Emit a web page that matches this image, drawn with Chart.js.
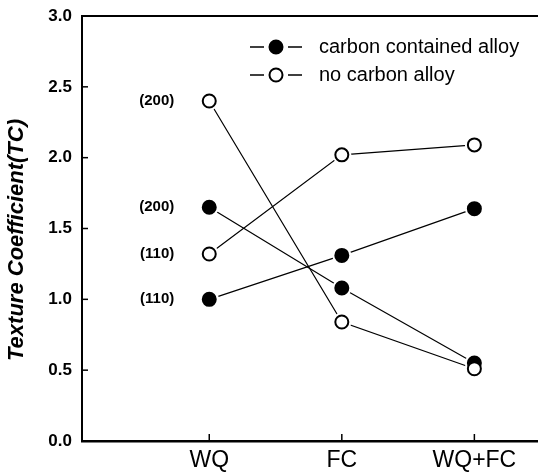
<!DOCTYPE html>
<html>
<head>
<meta charset="utf-8">
<script src="https://cdn.jsdelivr.net/npm/chart.js@4"></script>
<style>
  html, body { margin: 0; padding: 0; background: #fff; }
  #wrap { width: 538px; height: 474px; }
</style>
</head>
<body>
<div id="wrap"><canvas id="grafico" width="538" height="474"></canvas></div>
<script>
// categorias e valores
const categories = ['WQ', 'FC', 'WQ+FC'];
const carbon200 = [1.65, 1.08, 0.55];
const carbon110 = [1.00, 1.31, 1.64];
const noCarbon200 = [2.40, 0.84, 0.51];
const noCarbon110 = [1.32, 2.02, 2.09];
const yTicks = [0, 0.5, 1.0, 1.5, 2.0, 2.5, 3.0];
const legendLabels = ['carbon contained alloy', 'no carbon alloy'];
const yTitle = 'Texture Coefficient(TC)';
// rótulos dos planos ao lado do primeiro ponto
const planeLabels = [
  { text: '(200)', series: noCarbon200 },
  { text: '(200)', series: carbon200 },
  { text: '(110)', series: noCarbon110 },
  { text: '(110)', series: carbon110 }
];

const FONT = "'Liberation Sans', Arial, sans-serif";

function pontos(vals) {
  return vals.map((v, i) => ({ x: i + 1, y: v }));
}

const series = [
  { vals: carbon200, filled: true },
  { vals: carbon110, filled: true },
  { vals: noCarbon200, filled: false },
  { vals: noCarbon110, filled: false }
];

const datasets = [];
// linhas
series.forEach(s => datasets.push({
  data: pontos(s.vals), showLine: true, borderColor: '#000', borderWidth: 1.2,
  pointRadius: 0, order: 4
}));
// halo branco para abrir um pequeno espaço entre linha e marcador
series.forEach(s => datasets.push({
  data: pontos(s.vals), showLine: false, pointRadius: 9.5,
  pointBackgroundColor: '#fff', pointBorderWidth: 0, pointBorderColor: '#fff', order: 3
}));
// marcadores
series.forEach(s => datasets.push({
  data: pontos(s.vals), showLine: false, pointRadius: 6.5,
  pointBackgroundColor: s.filled ? '#000' : '#fff', pointBorderColor: '#000',
  pointBorderWidth: 2, order: s.filled ? 2 : 1
}));

// moldura, ticks internos, legenda e rótulos
const extras = {
  id: 'extras',
  afterDraw(chart) {
    const c = chart.ctx;
    const a = chart.chartArea;
    const xs = chart.scales.x, ys = chart.scales.y;
    c.save();
    c.strokeStyle = '#000';
    c.fillStyle = '#000';
    // linha de cima
    c.lineWidth = 2;
    c.beginPath(); c.moveTo(a.left, a.top); c.lineTo(a.right, a.top); c.stroke();
    // ticks internos
    c.lineWidth = 1.5;
    yTicks.forEach(t => {
      const y = ys.getPixelForValue(t);
      c.beginPath(); c.moveTo(a.left, y); c.lineTo(a.left + 6, y); c.stroke();
    });
    categories.forEach((_, i) => {
      const x = xs.getPixelForValue(i + 1);
      c.beginPath(); c.moveTo(x, a.bottom); c.lineTo(x, a.bottom - 7); c.stroke();
    });
    // título do eixo y
    c.save();
    c.translate(17, 240);
    c.rotate(-Math.PI / 2);
    c.font = 'italic bold 22px ' + FONT;
    c.textAlign = 'center';
    c.textBaseline = 'middle';
    c.fillText(yTitle, 0, 0);
    c.restore();
    // legenda
    c.lineWidth = 1.3;
    c.font = '20px ' + FONT;
    c.textBaseline = 'middle';
    legendLabels.forEach((txt, i) => {
      const y = 47 + i * 28;
      c.beginPath(); c.moveTo(250, y); c.lineTo(264, y); c.moveTo(288, y); c.lineTo(302, y); c.stroke();
      c.beginPath(); c.arc(276, y, 6.5, 0, Math.PI * 2);
      c.fillStyle = i === 0 ? '#000' : '#fff';
      c.fill();
      c.lineWidth = 2; c.stroke(); c.lineWidth = 1.3;
      c.fillStyle = '#000';
      c.textAlign = 'left';
      c.fillText(txt, 319, y);
    });
    // rótulos (200)/(110)
    c.font = 'bold 15px ' + FONT;
    c.textAlign = 'right';
    planeLabels.forEach(p => {
      c.fillText(p.text, xs.getPixelForValue(1) - 35, ys.getPixelForValue(p.series[0]));
    });
    c.restore();
  }
};

new Chart(document.getElementById('grafico'), {
  type: 'scatter',
  data: { datasets: datasets },
  options: {
    responsive: false,
    animation: false,
    layout: { autoPadding: false, padding: { top: 16, right: 0, left: 0, bottom: 0 } },
    plugins: { legend: { display: false }, tooltip: { enabled: false } },
    scales: {
      x: {
        type: 'linear', min: 0.04, max: 3.48,
        grid: { display: false, tickLength: 0 },
        border: { display: true, color: '#000', width: 2.5 },
        afterBuildTicks: s => { s.ticks = categories.map((_, i) => ({ value: i + 1 })); },
        afterFit: s => { s.height = 33; s.paddingLeft = 0; s.paddingRight = 0; },
        ticks: {
          color: '#000', padding: 6, autoSkip: false, maxRotation: 0,
          font: { family: FONT, size: 23 },
          callback: v => categories[v - 1]
        }
      },
      y: {
        min: 0, max: 3,
        grid: { display: false, tickLength: 0 },
        border: { display: true, color: '#000', width: 2 },
        afterBuildTicks: s => { s.ticks = yTicks.map(v => ({ value: v })); },
        afterFit: s => { s.width = 82; s.paddingTop = 0; s.paddingBottom = 0; },
        ticks: {
          color: '#000', padding: 10,
          font: { family: FONT, size: 17, weight: 'bold' },
          callback: v => v.toFixed(1)
        }
      }
    }
  },
  plugins: [extras]
});
</script>
</body>
</html>
